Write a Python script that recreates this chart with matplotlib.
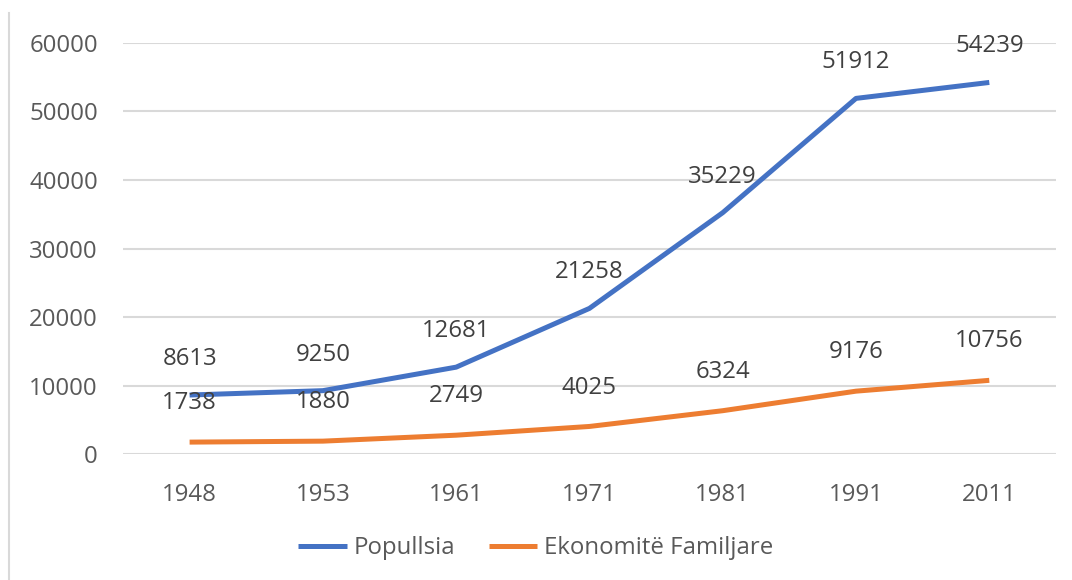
import matplotlib.pyplot as plt
from matplotlib.lines import Line2D

years = ['1948', '1953', '1961', '1971', '1981', '1991', '2011']
popullsia = [8613, 9250, 12681, 21258, 35229, 51912, 54239]
ekonomite = [1738, 1880, 2749, 4025, 6324, 9176, 10756]
yticks = [0, 10000, 20000, 30000, 40000, 50000, 60000]

blue = '#4472C4'
orange = '#ED7D31'
grid_c = '#D9D9D9'
txt_c = '#595959'
fs = 17.3

plt.rcParams['font.family'] = ['Open Sans', 'DejaVu Sans']

fig = plt.figure(figsize=(10.72, 5.8), dpi=100)
ax = fig.add_axes([0.1147, 0.2172, 0.8703, 0.7087])

x = range(len(years))
ax.plot(x, popullsia, color=blue, lw=3.6, solid_capstyle='butt', label='Popullsia', zorder=3)
ax.plot(x, ekonomite, color=orange, lw=3.6, solid_capstyle='butt', label='Ekonomitë Familjare', zorder=3)

# data labels above points
for i, v in enumerate(popullsia):
    ax.annotate(str(v), (i, v), xytext=(0, 26), textcoords='offset points',
                ha='center', va='center', fontsize=fs, color='#404040')
for i, v in enumerate(ekonomite):
    ax.annotate(str(v), (i, v), xytext=(0, 28), textcoords='offset points',
                ha='center', va='center', fontsize=fs, color='#404040')

ax.set_xlim(-0.5, len(years) - 0.5)
ax.set_ylim(0, 60000)
ax.set_yticks(yticks)
ax.set_yticklabels([str(t) for t in yticks])
ax.set_xticks(list(x))
ax.set_xticklabels(years)
ax.tick_params(axis='both', length=0, labelsize=fs, labelcolor=txt_c)
ax.tick_params(axis='y', pad=18)
ax.tick_params(axis='x', pad=21)
ax.grid(axis='y', color=grid_c, lw=1.5)
ax.set_axisbelow(True)
for s in ax.spines.values():
    s.set_visible(False)

handles = [Line2D([], [], color=blue, lw=3.6, solid_capstyle='butt'),
           Line2D([], [], color=orange, lw=3.6, solid_capstyle='butt')]
fig.legend(handles, ['Popullsia', 'Ekonomitë Familjare'], loc='center',
           bbox_to_anchor=(0.5, 0.055), ncol=2, frameon=False, fontsize=fs,
           labelcolor=txt_c, handlelength=2.0, handletextpad=0.3, columnspacing=1.4)

# outer chart border, only left edge visible
fig.add_artist(Line2D([0.0085, 0.0085], [0, 0.978], color=grid_c, lw=1.5,
                      transform=fig.transFigure))

fig.savefig('out.png', dpi=100)
